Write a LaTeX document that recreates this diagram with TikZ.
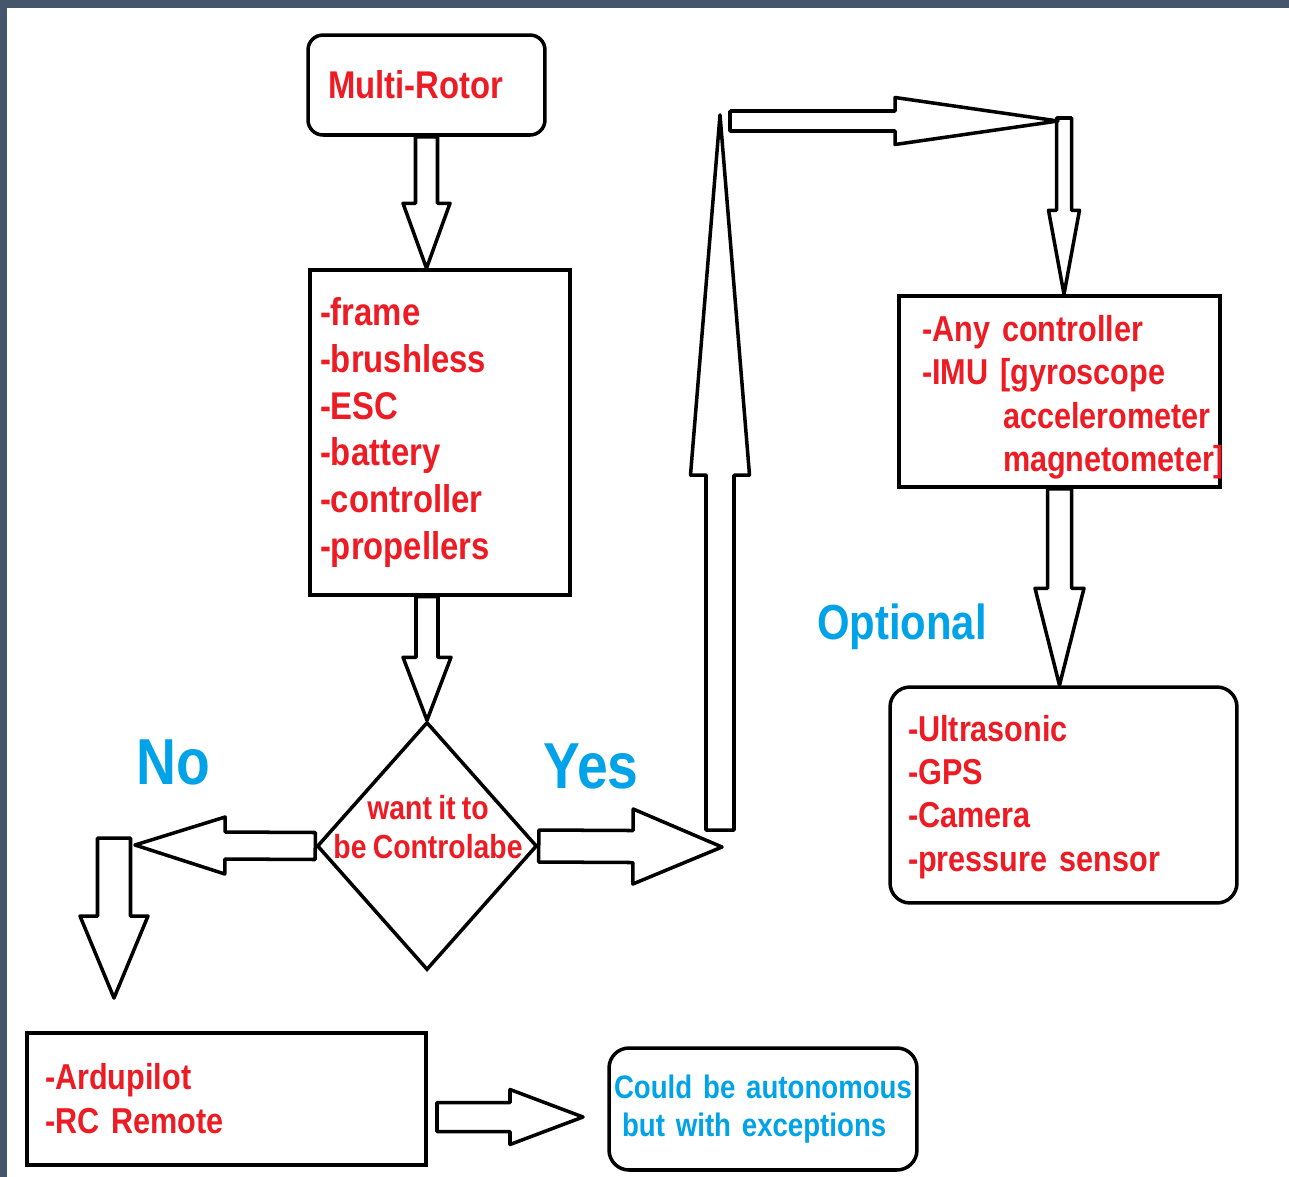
\documentclass[tikz,border=0pt]{standalone}
\usepackage{fontspec}
\setmainfont{Liberation Sans}[FakeStretch=0.85,WordSpace=0.8]
\usetikzlibrary{calc,shapes.geometric}
\definecolor{paintred}{HTML}{ED1C24}
\definecolor{paintblue}{HTML}{00A2E8}
\definecolor{slate}{HTML}{45556B}
\newcommand{\px}{0.02cm}
\hyphenpenalty=10000
\exhyphenpenalty=10000
% Hollow block arrow: from, to, shaft half width, head half width, head length
\newcommand{\blockarrow}[5]{%
    \coordinate (ba-h) at ($(#2)!#5*\px!(#1)$);
    \draw[blockline]
        ($(#1)!#3*\px!90:(#2)$) -- ($(ba-h)!#3*\px!90:(#2)$)
        -- ($(ba-h)!#4*\px!90:(#2)$) -- (#2)
        -- ($(ba-h)!#4*\px!-90:(#2)$) -- ($(ba-h)!#3*\px!-90:(#2)$)
        -- ($(#1)!#3*\px!-90:(#2)$) -- cycle;}

\begin{document}
\begin{tikzpicture}[
    x=\px, y=-\px,
    blockline/.style={draw=black,line width=2pt,line join=round},
    box/.style={draw=black,line width=2pt,align=left,text=paintred,
        font={\bfseries\fontsize{20.5}{24.7}\selectfont}},
    roundbox/.style={box,rounded corners=0.4cm},
    decision/.style={draw=black,line width=2pt,diamond,inner sep=0pt,
        minimum width=4.4cm,minimum height=4.96cm},
    answer/.style={text=paintblue,font={\bfseries\fontsize{37}{40}\selectfont}},
    ]
    % Frame
    \fill[slate] (0,0) rectangle (1289,1177);
    \fill[white] (7,8) rectangle (1289,1177);
    % Boxes
    \node[roundbox,rounded corners=0.3cm,minimum width=4.74cm,minimum height=2cm,
          inner xsep=0.4cm,text width=3.94cm,
          font={\bfseries\fontsize{22}{26}\selectfont}]
          (rotor) at (426.5,85) {Multi-Rotor};
    \node[box,minimum width=5.2cm,minimum height=6.5cm,inner xsep=0.2cm,
          text width=4.8cm,font={\bfseries\fontsize{22}{26.6}\selectfont}]
          (parts) at (440,432.5)
          {-frame\\-brushless\\-ESC\\-battery\\-controller\\-propellers};
    \node[decision] (decide) at (427,846) {};
    \node[align=center,text=paintred,font={\bfseries\fontsize{19}{22.7}\selectfont}]
          (decidetext) at (428,827) {want it to\\be Controlabe};
    \node[box,minimum width=6.42cm,minimum height=3.82cm,inner xsep=0.46cm,
          text width=5.5cm] (imu) at (1059.5,391.5)
          {\rule{0pt}{0.75cm}-Any controller\\-IMU [gyroscope\\\hspace*{1.62cm}accelerometer\\
           \hspace*{1.62cm}magnetometer]};
    \node[roundbox,minimum width=6.94cm,minimum height=4.32cm,inner xsep=0.36cm,
          text width=6.22cm] (sensors) at (1063.5,795)
          {\rule{0pt}{0.6cm}-Ultrasonic\\-GPS\\-Camera\\-pressure sensor};
    \node[box,minimum width=7.98cm,minimum height=2.64cm,inner xsep=0.36cm,
          text width=7.26cm,font={\bfseries\fontsize{20.5}{25}\selectfont}]
          (ardu) at (226.5,1099) {-Ardupilot\\-RC Remote};
    \node[roundbox,minimum width=6.16cm,minimum height=2.44cm,inner xsep=0.1cm,
          text width=5.96cm,text=paintblue,
          font={\bfseries\fontsize{18.5}{22}\selectfont}]
          (auto) at (763,1109) {Could be autonomous\\\hspace*{0.16cm}but with exceptions};
    % Labels
    \node[answer] (no) at (173,762) {No};
    \node[answer] (yes) at (591,766) {Yes};
    \node[answer,font={\bfseries\fontsize{28}{30}\selectfont}]
          (optional) at (902,627) {Optional};
    % Turning points
    \coordinate (nohead) at (135,845);
    \coordinate (nofoot) at (114,838);
    \coordinate (notip) at (114,998);
    \coordinate (yeshead) at (722,847);
    \coordinate (upfoot) at (720,830);
    \coordinate (uphead) at (720,115);
    \coordinate (topfoot) at (730,121);
    \coordinate (tophead) at (1058,121);
    \coordinate (topturn) at (1064,118);
    \coordinate (autofoot) at (437,1117);
    \coordinate (autohead) at (583,1117);
    % Arrows
    \blockarrow{rotor.south}{rotor.south |- parts.north}{11}{23.5}{65}
    \blockarrow{decide.north |- parts.south}{decide.north}{11}{24}{63}
    \blockarrow{decide.west}{nohead}{13.5}{28.5}{90}
    \blockarrow{nofoot}{notip}{16.5}{34}{82}
    \blockarrow{decide.east}{yeshead}{16}{37.5}{89}
    \blockarrow{upfoot}{uphead}{14}{29.5}{360}
    \blockarrow{topfoot}{tophead}{10}{23.5}{163}
    \blockarrow{topturn}{topturn |- imu.north}{7.5}{15.5}{84}
    \blockarrow{imu.south}{imu.south |- sensors.north}{12}{24.5}{97}
    \blockarrow{autofoot}{autohead}{14.5}{27.5}{73}
\end{tikzpicture}
\end{document}
